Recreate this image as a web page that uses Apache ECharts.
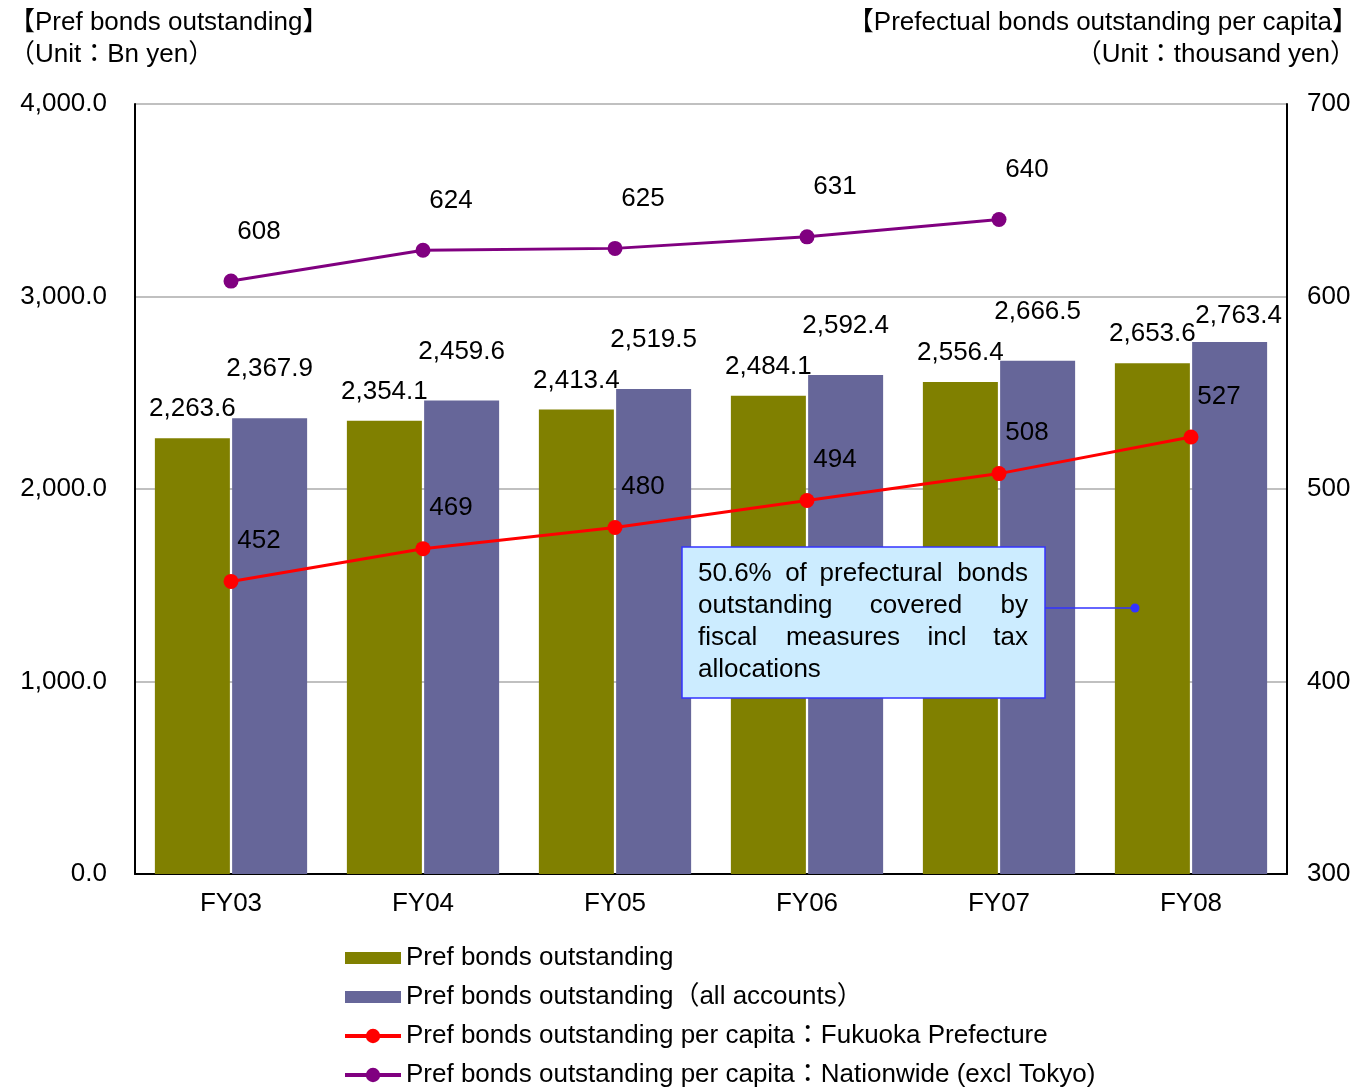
<!DOCTYPE html>
<html><head><meta charset="utf-8">
<script src="https://cdn.jsdelivr.net/npm/echarts@6/dist/echarts.min.js"></script>
<style>html,body{margin:0;padding:0;background:#fff}#c{width:1367px;height:1092px}</style>
</head><body><div id="c"></div>
<script>
const categories = ['FY03','FY04','FY05','FY06','FY07','FY08'];
const prefBonds = [2263.6, 2354.1, 2413.4, 2484.1, 2556.4, 2653.6];
const prefBondsAll = [2367.9, 2459.6, 2519.5, 2592.4, 2666.5, 2763.4];
const perCapitaFukuoka = [452, 469, 480, 494, 508, 527];
const perCapitaNational = [608, 624, 625, 631, 640, null];
const seriesNames = [
  'Pref bonds outstanding',
  'Pref bonds outstanding（all accounts）',
  'Pref bonds outstanding per capita：Fukuoka Prefecture',
  'Pref bonds outstanding per capita：Nationwide (excl Tokyo)'
];
const FONT = "'Liberation Sans','Noto Sans CJK JP',sans-serif";
const FS = 26;
const fmt1 = v => v.toLocaleString('en-US',{minimumFractionDigits:1,maximumFractionDigits:1});

const chart = echarts.init(document.getElementById('c'), null, {renderer:'canvas'});

const allData = prefBondsAll.map((v,i) => i === categories.length-1
  ? {value:v, label:{distance:13, offset:[9,0]}} : v);

const annLines = [
  [{t:'50.6%', x:698, a:'left'},{t:'of', x:796, a:'center'},{t:'prefectural', x:881, a:'center'},{t:'bonds', x:1028, a:'right'}],
  [{t:'outstanding', x:698, a:'left'},{t:'covered', x:916, a:'center'},{t:'by', x:1028, a:'right'}],
  [{t:'fiscal', x:698, a:'left'},{t:'measures', x:843, a:'center'},{t:'incl', x:947, a:'center'},{t:'tax', x:1028, a:'right'}],
  [{t:'allocations', x:698, a:'left'}]
];
const annTexts = [];
annLines.forEach((line, li) => line.forEach(w => annTexts.push({
  type:'text', x:w.x, y:574 + li*32, z:101,
  style:{text:w.t, font:FS+'px '+FONT, fill:'#000', align:w.a, verticalAlign:'middle'}
})));

const barIcon = 'path://M0,0L0,0M0,2.5H56V14.5H0ZM56,17L56,17';

chart.setOption({
  animation:false,
  textStyle:{fontFamily:FONT, fontSize:FS, color:'#000'},
  title:[
    {text:'【Pref bonds outstanding】', left:4, top:5, textStyle:{fontFamily:FONT, fontSize:FS, fontWeight:'normal', color:'#000'}},
    {text:'（Unit：Bn yen）', left:4, top:37, textStyle:{fontFamily:FONT, fontSize:FS, fontWeight:'normal', color:'#000'}},
    {text:'【Prefectual bonds outstanding per capita】', right:4, top:5, textStyle:{fontFamily:FONT, fontSize:FS, fontWeight:'normal', color:'#000'}},
    {text:'（Unit：thousand yen）', right:6, top:37, textStyle:{fontFamily:FONT, fontSize:FS, fontWeight:'normal', color:'#000'}}
  ],
  grid:{left:135, right:80, top:104, bottom:218, containLabel:false},
  legend:{
    orient:'vertical', left:343, top:945, height:147, padding:0, itemGap:13, itemWidth:56, itemHeight:18,
    textStyle:{fontFamily:FONT, fontSize:FS, color:'#000'},
    data:[
      {name:seriesNames[0], icon:barIcon},
      {name:seriesNames[1], icon:barIcon},
      {name:seriesNames[2], lineStyle:{width:4}},
      {name:seriesNames[3], lineStyle:{width:4}}
    ]
  },
  xAxis:{
    type:'category', data:categories,
    axisLine:{lineStyle:{color:'#000', width:2}},
    axisTick:{show:false},
    axisLabel:{fontFamily:FONT, fontSize:FS, color:'#000', margin:17}
  },
  yAxis:[
    {type:'value', min:0, max:4000, interval:1000,
     axisLine:{show:true, lineStyle:{color:'#000', width:2}},
     axisTick:{show:false},
     splitLine:{lineStyle:{color:'#c0c0c0', width:2}},
     axisLabel:{fontFamily:FONT, fontSize:FS, color:'#000', margin:28, formatter:v=>fmt1(v)}},
    {type:'value', min:300, max:700, interval:100, position:'right',
     axisLine:{show:true, lineStyle:{color:'#000', width:2}},
     axisTick:{show:false},
     splitLine:{show:false},
     axisLabel:{fontFamily:FONT, fontSize:FS, color:'#000', margin:20}}
  ],
  series:[
    {name:seriesNames[0], type:'bar', data:prefBonds, barWidth:75, barGap:'3%',
     itemStyle:{color:'#808000'},
     label:{show:true, position:'top', distance:16, fontFamily:FONT, fontSize:FS, color:'#000', formatter:p=>fmt1(p.value)}},
    {name:seriesNames[1], type:'bar', data:allData, barWidth:75,
     itemStyle:{color:'#666699'},
     label:{show:true, position:'top', distance:36, fontFamily:FONT, fontSize:FS, color:'#000', formatter:p=>fmt1(p.value)}},
    {name:seriesNames[2], type:'line', yAxisIndex:1, data:perCapitaFukuoka, z:5,
     symbol:'circle', symbolSize:15, lineStyle:{color:'#ff0000', width:3}, itemStyle:{color:'#ff0000'},
     label:{show:true, position:'top', offset:[28,-15], fontFamily:FONT, fontSize:FS, color:'#000'}},
    {name:seriesNames[3], type:'line', yAxisIndex:1, data:perCapitaNational, z:5,
     symbol:'circle', symbolSize:15, lineStyle:{color:'#800080', width:3}, itemStyle:{color:'#800080'},
     label:{show:true, position:'top', offset:[28,-24], fontFamily:FONT, fontSize:FS, color:'#000'}}
  ],
  graphic:[
    {type:'line', z:99, shape:{x1:1045, y1:608, x2:1135, y2:608}, style:{stroke:'#3333ff', lineWidth:1.5}},
    {type:'circle', z:99, shape:{cx:1135, cy:608, r:4.5}, style:{fill:'#3333ff'}},
    {type:'rect', z:100, shape:{x:682, y:547, width:363, height:151}, style:{fill:'#ccecff', stroke:'#3333ff', lineWidth:1.5}}
  ].concat(annTexts)
});
</script></body></html>
